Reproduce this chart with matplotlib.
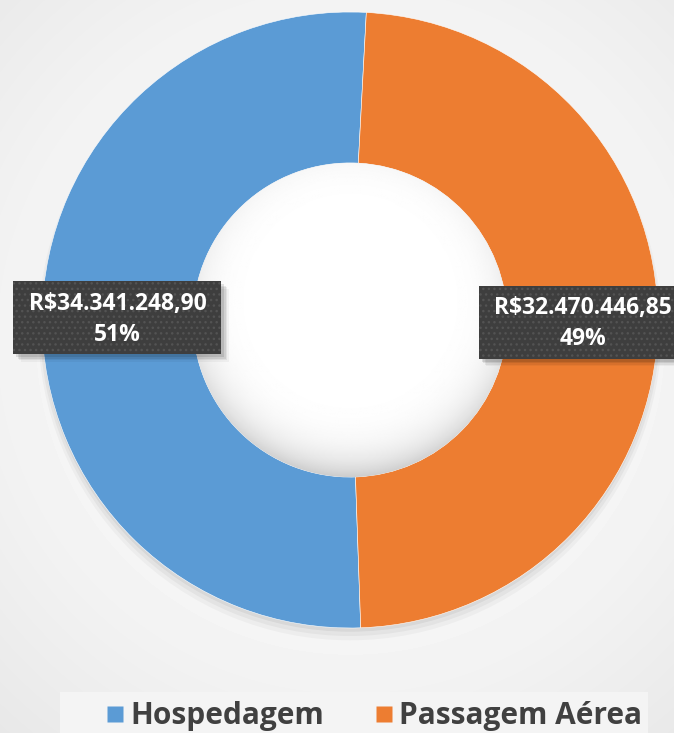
import numpy as np
import matplotlib
matplotlib.use("Agg")
import matplotlib.pyplot as plt
import matplotlib.patches as mpatches
from matplotlib.lines import Line2D

categories = ["Hospedagem", "Passagem Aérea"]
values = [34341248.90, 32470446.85]
colors = ["#5B9BD5", "#ED7D31"]

W, H = 674, 733
DPI = 100


def brl(v):
    s = f"{v:,.2f}"
    s = s.replace(",", "#").replace(".", ",").replace("#", ".")
    return "R$" + s


fig = plt.figure(figsize=(W / DPI, H / DPI), dpi=DPI)

# background with soft radial gradient
bg = fig.add_axes([0, 0, 1, 1])
yy, xx = np.mgrid[0:H, 0:W]
d = np.sqrt((xx - 350) ** 2 + (yy - 340) ** 2) / 520.0
shade = 0.995 - 0.085 * np.clip(d, 0, 1.2) ** 1.6
bg.imshow(shade, cmap="gray", vmin=0, vmax=1, extent=[0, W, H, 0], aspect="auto")
bg.set_xlim(0, W)
bg.set_ylim(H, 0)
bg.axis("off")

# legend box
bg.add_patch(mpatches.Rectangle((60, 692), 588, 45, facecolor="#f4f4f4",
                                edgecolor="none", zorder=2))

# donut axes: center (350, 320) px, radius 308 px
cx, cy, R = 350, 320, 308
ax = fig.add_axes([(cx - R) / W, (H - cy - R) / H, 2 * R / W, 2 * R / H])
ax.set_xlim(-1, 1)
ax.set_ylim(-1, 1)
ax.axis("off")

# faint drop shadow under the ring
for k, a in enumerate([0.05, 0.04, 0.03]):
    ax.add_patch(mpatches.Wedge((0.0, -0.012 - 0.008 * k), 1.0 + 0.006 * k, 0, 360,
                                width=0.5, facecolor="black", alpha=a,
                                edgecolor="none", zorder=0, clip_on=False))

wedges, _ = ax.pie(values, colors=colors, startangle=-88, counterclock=False,
                   radius=1.0, wedgeprops=dict(width=0.49, edgecolor="white",
                                               linewidth=0.4),
                   normalize=True)
ax.set_xlim(-1, 1)
ax.set_ylim(-1, 1)
ax.set_aspect("auto")

# inner shading of the hole
r_in = 0.51
g = np.linspace(-r_in, r_in, 300)
gx, gy = np.meshgrid(g, g)
gr = np.sqrt(gx ** 2 + (gy + 0.06) ** 2) / r_in
hole = 1.0 - 0.08 * np.clip(gr, 0, 1.2) ** 8
im = ax.imshow(hole, cmap="gray", vmin=0, vmax=1,
               extent=[-r_in, r_in, -r_in, r_in], zorder=1)
im.set_clip_path(mpatches.Circle((0, 0), r_in, transform=ax.transData))

# data labels
total = sum(values)
bw, bh = 208 / R, 73 / R
for w, v in zip(wedges, values):
    ang = np.deg2rad((w.theta1 + w.theta2) / 2)
    x, y = 0.755 * np.cos(ang), 0.755 * np.sin(ang)
    for k, a in enumerate([0.10, 0.08, 0.06, 0.04]):
        off = (3 + 1.5 * k) / R
        ax.add_patch(mpatches.Rectangle((x - bw / 2 + off, y - bh / 2 - off), bw, bh,
                                        facecolor="black", alpha=a,
                                        edgecolor="none", zorder=3, clip_on=False))
    ax.add_patch(mpatches.Rectangle((x - bw / 2, y - bh / 2), bw, bh,
                                    facecolor="#3e3e3e", edgecolor="#535353",
                                    linewidth=0, hatch="...", zorder=4,
                                    clip_on=False))
    pct = round(100 * v / total)
    ax.text(x, y - 1.5 / R, f"{brl(v)}\n{pct}%", ha="center", va="center",
            color="white", fontsize=16.5, fontweight="bold",
            family=["Open Sans", "DejaVu Sans"], linespacing=1.36, zorder=5,
            clip_on=False)

handles = [Line2D([], [], marker="s", linestyle="none", markersize=12,
                  markerfacecolor=c, markeredgecolor="none") for c in colors]
fig.legend(handles, categories, loc="center", bbox_to_anchor=(374 / W, 1 - 716 / H),
           ncol=2, frameon=False, handlelength=0.6, handletextpad=0.2,
           columnspacing=1.7, borderpad=0,
           prop=dict(family=["Open Sans", "DejaVu Sans"], weight="bold", size=21.5),
           labelcolor="#404040")

fig.savefig("out.png", dpi=DPI)
